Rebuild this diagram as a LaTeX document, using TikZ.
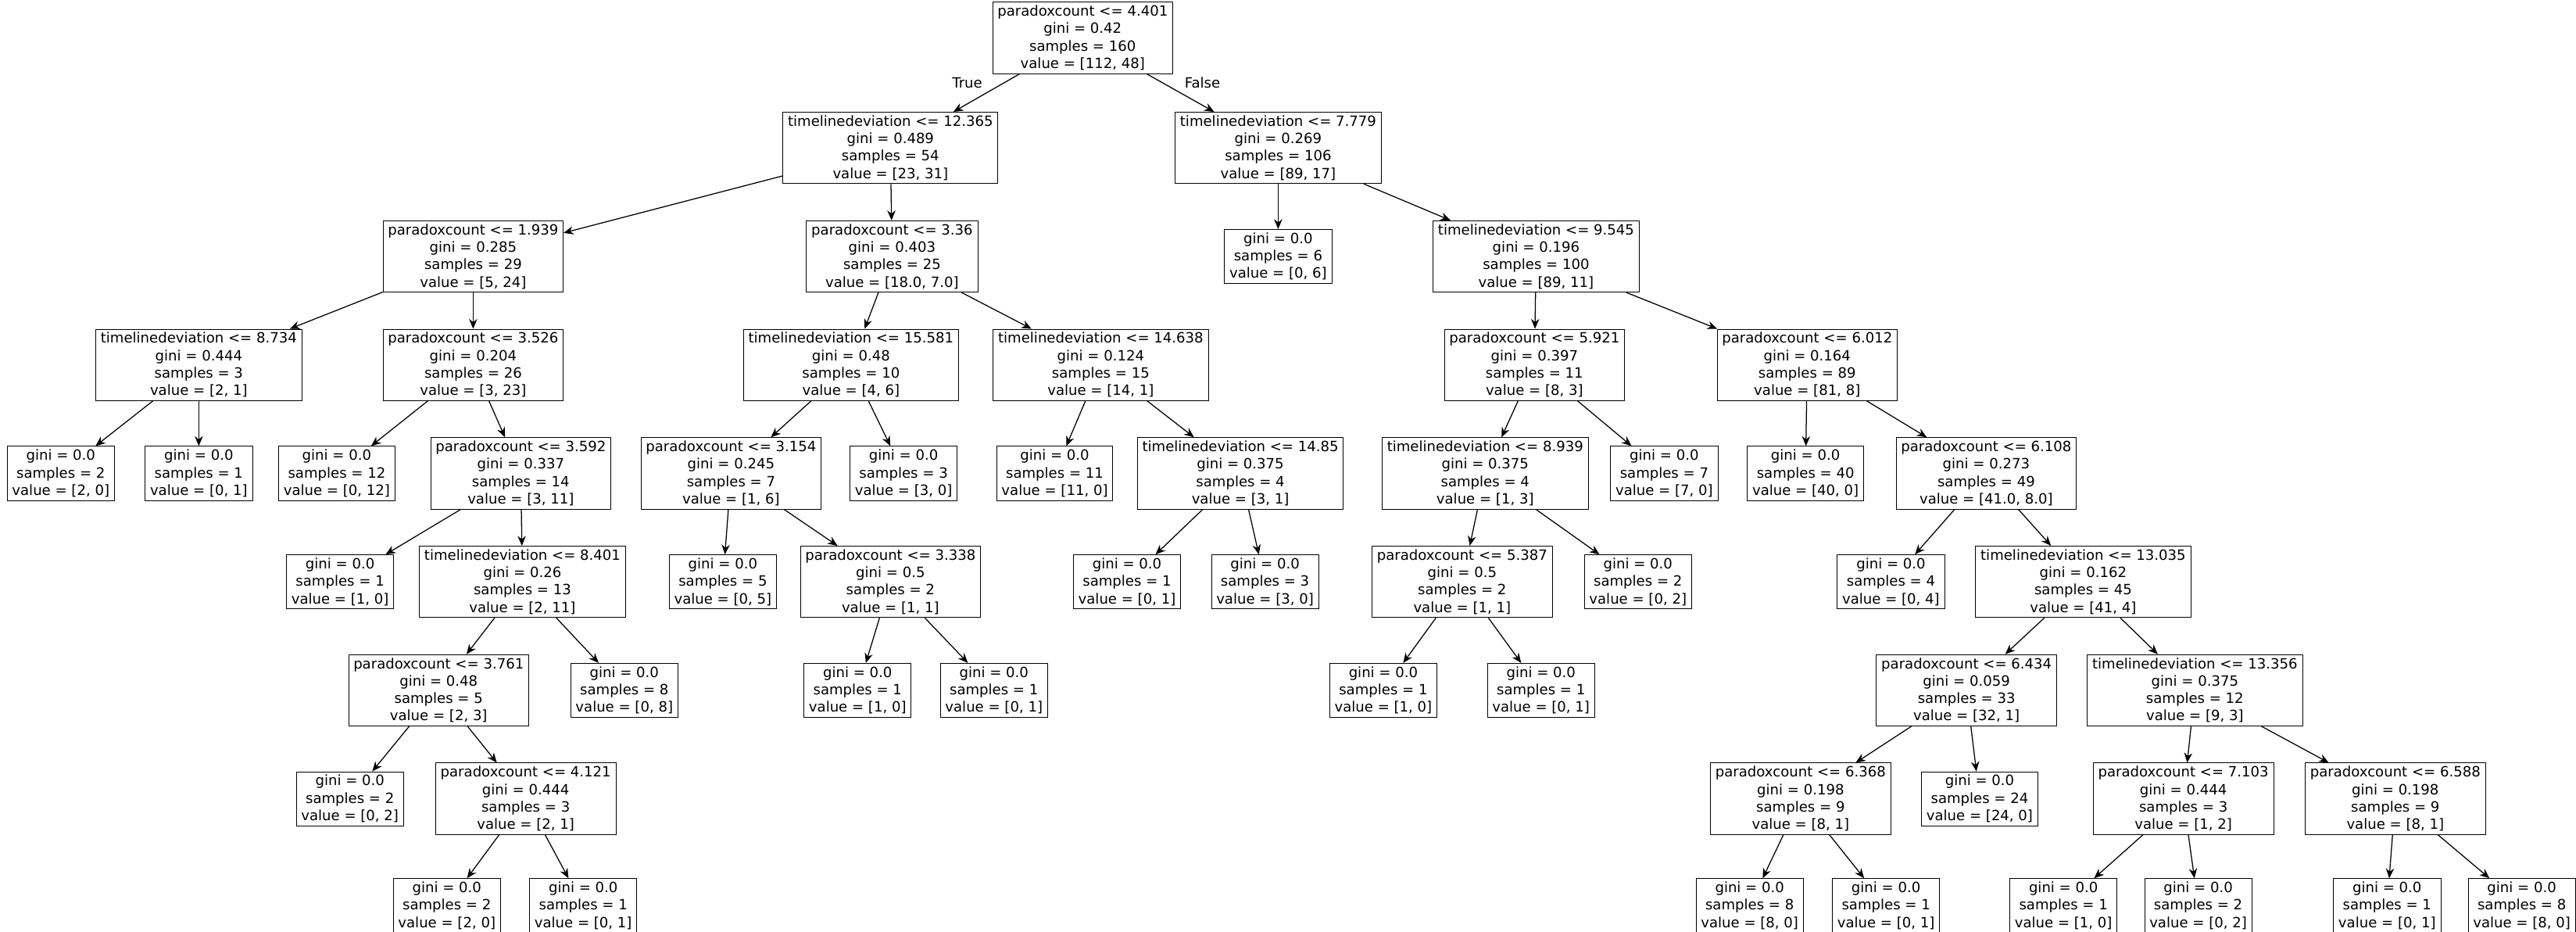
\documentclass[tikz,border=0pt]{standalone}
\usepackage{fontspec}
\setmainfont{DejaVu Sans}
\usetikzlibrary{arrows.meta}
\tikzset{
  split/.style={draw, align=center, inner xsep=3pt, inner ysep=2pt, font=\fontsize{8.6}{10.6}\selectfont},
  leaf/.style={split},
  edge/.style={-{Stealth[length=6pt,width=5pt]}, line width=0.6pt}
}
\newcommand{\lf}[3]{gini = 0.0\\samples = #1\\value = [#2, #3]}
\begin{document}
\begin{tikzpicture}[x=1pt,y=-1pt]
\useasboundingbox (0,0) rectangle (1568,566.6);
% level 0-1
\node[split] (r) at (659,23) {paradoxcount <= 4.401\\gini = 0.42\\samples = 160\\value = [112, 48]};
\node[split] (a) at (542,90) {timelinedeviation <= 12.365\\gini = 0.489\\samples = 54\\value = [23, 31]};
\node[split] (b) at (778,90) {timelinedeviation <= 7.779\\gini = 0.269\\samples = 106\\value = [89, 17]};
% level 2
\node[split] (aa) at (288,156) {paradoxcount <= 1.939\\gini = 0.285\\samples = 29\\value = [5, 24]};
\node[split] (ab) at (543,156) {paradoxcount <= 3.36\\gini = 0.403\\samples = 25\\value = [18.0, 7.0]};
\node[leaf] (ba) at (778,156) {\lf{6}{0}{6}};
\node[split] (bb) at (935,156) {timelinedeviation <= 9.545\\gini = 0.196\\samples = 100\\value = [89, 11]};
% level 3
\node[split] (aaa) at (121,222) {timelinedeviation <= 8.734\\gini = 0.444\\samples = 3\\value = [2, 1]};
\node[split] (aab) at (288,222) {paradoxcount <= 3.526\\gini = 0.204\\samples = 26\\value = [3, 23]};
\node[split] (aba) at (518,222) {timelinedeviation <= 15.581\\gini = 0.48\\samples = 10\\value = [4, 6]};
\node[split] (abb) at (670,222) {timelinedeviation <= 14.638\\gini = 0.124\\samples = 15\\value = [14, 1]};
\node[split] (bba) at (934,222) {paradoxcount <= 5.921\\gini = 0.397\\samples = 11\\value = [8, 3]};
\node[split] (bbb) at (1100,222) {paradoxcount <= 6.012\\gini = 0.164\\samples = 89\\value = [81, 8]};
% level 4
\node[leaf] (aaaa) at (37,288) {\lf{2}{2}{0}};
\node[leaf] (aaab) at (121,288) {\lf{1}{0}{1}};
\node[leaf] (aaba) at (205,288) {\lf{12}{0}{12}};
\node[split] (aabb) at (317,288) {paradoxcount <= 3.592\\gini = 0.337\\samples = 14\\value = [3, 11]};
\node[split] (abaa) at (445,288) {paradoxcount <= 3.154\\gini = 0.245\\samples = 7\\value = [1, 6]};
\node[leaf] (abab) at (550,288) {\lf{3}{3}{0}};
\node[leaf] (abba) at (642,288) {\lf{11}{11}{0}};
\node[split] (abbb) at (755,288) {timelinedeviation <= 14.85\\gini = 0.375\\samples = 4\\value = [3, 1]};
\node[split] (bbaa) at (904,288) {timelinedeviation <= 8.939\\gini = 0.375\\samples = 4\\value = [1, 3]};
\node[leaf] (bbab) at (1013,288) {\lf{7}{7}{0}};
\node[leaf] (bbba) at (1099,288) {\lf{40}{40}{0}};
\node[split] (bbbb) at (1209,288) {paradoxcount <= 6.108\\gini = 0.273\\samples = 49\\value = [41.0, 8.0]};
% level 5
\node[leaf] (aabba) at (207,354) {\lf{1}{1}{0}};
\node[split] (aabbb) at (318,354) {timelinedeviation <= 8.401\\gini = 0.26\\samples = 13\\value = [2, 11]};
\node[leaf] (abaaa) at (440,354) {\lf{5}{0}{5}};
\node[split] (abaab) at (542,354) {paradoxcount <= 3.338\\gini = 0.5\\samples = 2\\value = [1, 1]};
\node[leaf] (abbba) at (686,354) {\lf{1}{0}{1}};
\node[leaf] (abbbb) at (770,354) {\lf{3}{3}{0}};
\node[split] (bbaaa) at (890,354) {paradoxcount <= 5.387\\gini = 0.5\\samples = 2\\value = [1, 1]};
\node[leaf] (bbaab) at (997,354) {\lf{2}{0}{2}};
\node[leaf] (bbbba) at (1151,354) {\lf{4}{0}{4}};
\node[split] (bbbbb) at (1268,354) {timelinedeviation <= 13.035\\gini = 0.162\\samples = 45\\value = [41, 4]};
% level 6
\node[split] (aabbba) at (267,420) {paradoxcount <= 3.761\\gini = 0.48\\samples = 5\\value = [2, 3]};
\node[leaf] (aabbbb) at (380,420) {\lf{8}{0}{8}};
\node[leaf] (abaaba) at (522,420) {\lf{1}{1}{0}};
\node[leaf] (abaabb) at (605,420) {\lf{1}{0}{1}};
\node[leaf] (bbaaaa) at (842,420) {\lf{1}{1}{0}};
\node[leaf] (bbaaab) at (938,420) {\lf{1}{0}{1}};
\node[split] (bbbbba) at (1197,420) {paradoxcount <= 6.434\\gini = 0.059\\samples = 33\\value = [32, 1]};
\node[split] (bbbbbb) at (1336,420) {timelinedeviation <= 13.356\\gini = 0.375\\samples = 12\\value = [9, 3]};
% level 7
\node[leaf] (aabbbaa) at (213,486) {\lf{2}{0}{2}};
\node[split] (aabbbab) at (320,486) {paradoxcount <= 4.121\\gini = 0.444\\samples = 3\\value = [2, 1]};
\node[split] (bbbbbaa) at (1096,486) {paradoxcount <= 6.368\\gini = 0.198\\samples = 9\\value = [8, 1]};
\node[leaf] (bbbbbab) at (1205,486) {\lf{24}{24}{0}};
\node[split] (bbbbbba) at (1329,486) {paradoxcount <= 7.103\\gini = 0.444\\samples = 3\\value = [1, 2]};
\node[split] (bbbbbbb) at (1458,486) {paradoxcount <= 6.588\\gini = 0.198\\samples = 9\\value = [8, 1]};
% level 8
\node[leaf] (aabbbaba) at (272,551) {\lf{2}{2}{0}};
\node[leaf] (aabbbabb) at (355,551) {\lf{1}{0}{1}};
\node[leaf] (bbbbbaaa) at (1065,551) {\lf{8}{8}{0}};
\node[leaf] (bbbbbaab) at (1148,551) {\lf{1}{0}{1}};
\node[leaf] (bbbbbbaa) at (1256,551) {\lf{1}{1}{0}};
\node[leaf] (bbbbbbab) at (1338,551) {\lf{2}{0}{2}};
\node[leaf] (bbbbbbba) at (1453,551) {\lf{1}{0}{1}};
\node[leaf] (bbbbbbbb) at (1535,551) {\lf{8}{8}{0}};
% edges
\draw[edge] (r) -- node[above left=-1pt, font=\fontsize{8.6}{10}\selectfont] {True} (a);
\draw[edge] (r) -- node[above right=-1pt, font=\fontsize{8.6}{10}\selectfont] {False} (b);
\foreach \p/\c in {a/aa, a/ab, b/ba, b/bb,
  aa/aaa, aa/aab, ab/aba, ab/abb, bb/bba, bb/bbb,
  aaa/aaaa, aaa/aaab, aab/aaba, aab/aabb, aba/abaa, aba/abab, abb/abba, abb/abbb,
  bba/bbaa, bba/bbab, bbb/bbba, bbb/bbbb,
  aabb/aabba, aabb/aabbb, abaa/abaaa, abaa/abaab, abbb/abbba, abbb/abbbb,
  bbaa/bbaaa, bbaa/bbaab, bbbb/bbbba, bbbb/bbbbb,
  aabbb/aabbba, aabbb/aabbbb, abaab/abaaba, abaab/abaabb, bbaaa/bbaaaa, bbaaa/bbaaab,
  bbbbb/bbbbba, bbbbb/bbbbbb,
  aabbba/aabbbaa, aabbba/aabbbab, bbbbba/bbbbbaa, bbbbba/bbbbbab,
  bbbbbb/bbbbbba, bbbbbb/bbbbbbb,
  aabbbab/aabbbaba, aabbbab/aabbbabb, bbbbbaa/bbbbbaaa, bbbbbaa/bbbbbaab,
  bbbbbba/bbbbbbaa, bbbbbba/bbbbbbab, bbbbbbb/bbbbbbba, bbbbbbb/bbbbbbbb}
  \draw[edge] (\p) -- (\c);
\end{tikzpicture}
\end{document}
